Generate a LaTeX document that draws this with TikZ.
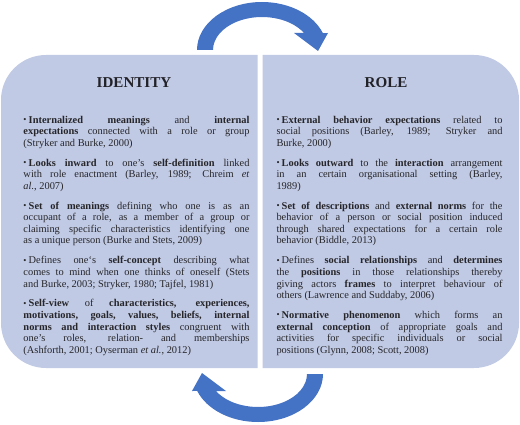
\documentclass[tikz,border=0pt]{standalone}
\usepackage{fontspec}
\setmainfont{Liberation Serif}
\tolerance=10000
\hbadness=10000
\hyphenpenalty=10000
\newcommand{\dotmark}{\raisebox{0.1ex}{\scalebox{0.85}{\textbullet}}\hspace{1.6pt}}
\newcommand{\itemgap}{\par\vspace{6.2pt}}
\tikzset{every picture/.style={line width=0.75pt}}
\tikzset{
panel/.style={fill={rgb, 255:red, 193; green, 202; blue, 228}},
loop arrow/.style={fill={rgb, 255:red, 68; green, 114; blue, 196}},
head text/.style={anchor=base,inner sep=0.75pt,font=\fontsize{11.3}{13}\selectfont\bfseries,color={rgb, 255:red, 34; green, 34; blue, 40}},
body text/.style={anchor=base west,inner sep=0pt,text width=169.5pt,align=justify,font=\fontsize{7.8}{8.7}\selectfont,color={rgb, 255:red, 38; green, 38; blue, 42}}}

\begin{document}
\begin{tikzpicture}[x=0.75pt,y=0.75pt,yscale=-1,xscale=1]
\useasboundingbox (0,0) rectangle (520,424);

%Shape: Left panel
\fill [panel] (257.5,55) -- (46,55) arc [start angle=270, end angle=180, radius=45] -- (1,323) arc [start angle=180, end angle=90, radius=45] -- (257.5,368) -- cycle ;
%Shape: Right panel
\fill [panel] (262.5,55) -- (474,55) arc [start angle=270, end angle=360, radius=45] -- (519,323) arc [start angle=0, end angle=90, radius=45] -- (262.5,368) -- cycle ;

%Shape: Top curved arrow
\fill [loop arrow] (197,50) arc [start angle=180, end angle=339.3, x radius=65, y radius=48] -- (328,33) -- (318,51) -- (294,33) -- (304,33) arc [start angle=329, end angle=180, x radius=49, y radius=33] -- cycle ;
%Shape: Bottom curved arrow
\begin{scope}[rotate around={180:(260,212)}]
\fill [loop arrow] (197,50) arc [start angle=180, end angle=339.3, x radius=65, y radius=48] -- (328,33) -- (318,51) -- (294,33) -- (304,33) arc [start angle=329, end angle=180, x radius=49, y radius=33] -- cycle ;
\end{scope}

% Text Node
\node [head text] (identity) at (134,88) {IDENTITY};
% Text Node
\node [head text] (role) at (386,88) {ROLE};

% Text Node
\node [body text] (identitylist) at (23,123) {\dotmark\textbf{Internalized meanings} and \textbf{internal}\linebreak \textbf{expectations} connected with a role or group\linebreak (Stryker and Burke, 2000)\itemgap
\dotmark\textbf{Looks inward} to one's \textbf{self-definition} linked\linebreak with role enactment (Barley, 1989; Chreim \textit{et}\linebreak \textit{al.}, 2007)\itemgap
\dotmark\textbf{Set of meanings} defining who one is as an\linebreak occupant of a role, as a member of a group or\linebreak claiming specific characteristics identifying one\linebreak as a unique person (Burke and Stets, 2009)\itemgap
\dotmark Defines one`s \textbf{self-concept} describing what\linebreak comes to mind when one thinks of oneself (Stets\linebreak and Burke, 2003; Stryker, 1980; Tajfel, 1981)\itemgap
\dotmark\textbf{Self-view} of \textbf{characteristics, experiences,}\linebreak \textbf{motivations, goals, values, beliefs, internal}\linebreak \textbf{norms and interaction styles} congruent with\linebreak one's roles, relation- and memberships\linebreak (Ashforth, 2001; Oyserman \textit{et al.}, 2012)};

% Text Node
\node [body text] (rolelist) at (276,123) {\dotmark\textbf{External behavior expectations} related to\linebreak social positions (Barley, 1989; Stryker and\linebreak Burke, 2000)\itemgap
\dotmark\textbf{Looks outward} to the \textbf{interaction} arrangement\linebreak in an certain organisational setting (Barley,\linebreak 1989)\itemgap
\dotmark\textbf{Set of descriptions} and \textbf{external norms} for the\linebreak behavior of a person or social position induced\linebreak through shared expectations for a certain role\linebreak behavior (Biddle, 2013)\itemgap
\dotmark Defines \textbf{social relationships} and \textbf{determines}\linebreak the \textbf{positions} in those relationships thereby\linebreak giving actors \textbf{frames} to interpret behaviour of\linebreak others (Lawrence and Suddaby, 2006)\itemgap
\dotmark\textbf{Normative phenomenon} which forms an\linebreak \textbf{external conception} of appropriate goals and\linebreak activities for specific individuals or social\linebreak positions (Glynn, 2008; Scott, 2008)};

\end{tikzpicture}
\end{document}
